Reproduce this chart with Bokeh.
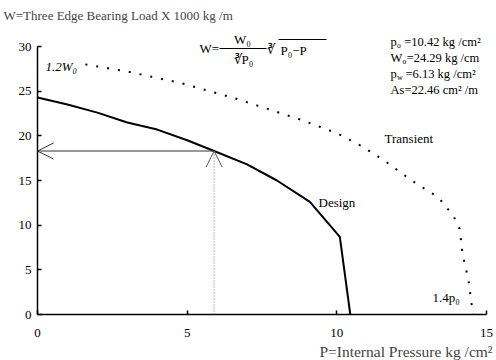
from bokeh.plotting import figure
from bokeh.models import Label, Arrow, OpenHead, FixedTicker, Range1d, Title
from bokeh.embed import file_html
from bokeh.resources import INLINE

# ---- data ----
design_P = [0, 1, 2, 3, 4, 5, 5.9, 7, 8, 9.1, 10.1, 10.45]
design_W = [24.3, 23.5, 22.6, 21.5, 20.7, 19.5, 18.3, 16.8, 15.0, 12.6, 8.7, 0]
transient_P = [1.6, 3.0, 4.8, 6.6, 8.8, 10.0, 10.8, 11.6, 12.5, 13.4, 13.9, 14.1, 14.2, 14.4, 14.5, 14.55]
transient_W = [28.0, 27.2, 25.9, 24.2, 21.8, 20.3, 18.9, 17.2, 15.0, 13.1, 11.0, 9.6, 6.8, 3.8, 1.2, 0]
operating_P = 5.9
operating_W = 18.3
x_ticks = [0, 5, 10, 15]
y_ticks = [0, 5, 10, 15, 20, 25, 30]
param_lines = ["p₀ =10.42 kg /cm²", "W₀=24.29 kg /cm", "=6.13 kg /cm²", "As=22.46 cm² /m"]
title_text = "W=Three Edge Bearing Load X 1000 kg /m"
xlabel_text = "P=Internal Pressure kg /cm²"

FONT = "Liberation Serif"
W, H = 496, 360
L, B, TOP = 37, 46, 24        # frame left / bottom / top borders in pixels
AX_X1, AX_Y1 = 15, 30         # axis extents
PX_X1, PX_Y1 = 486, 46        # pixel positions of those extents
sx = (PX_X1 - L) / AX_X1      # pixels per unit
sy = (H - B - PX_Y1) / AX_Y1
x_end = (W - L) / sx
y_end = (H - B - TOP) / sy

def dx(px):
    return (px - L) / sx

def dy(py):
    return (H - B - py) / sy

p = figure(width=W, height=H, x_range=Range1d(0, x_end), y_range=Range1d(0, y_end),
           output_backend="svg", toolbar_location=None,
           min_border_left=L, min_border_right=0, min_border_top=TOP, min_border_bottom=B)
p.title.text = title_text
p.title.align = "left"
p.title.offset = -34
p.title.standoff = 4
p.title.text_font = FONT
p.title.text_font_size = "13px"
p.title.text_font_style = "normal"
p.grid.visible = False
p.outline_line_color = None
p.background_fill_color = "white"
p.border_fill_color = "white"

for ax in (p.xaxis, p.yaxis):
    ax.axis_line_width = 1.5
    ax.axis_line_color = "black"
    ax.major_tick_in = 4
    ax.major_tick_out = 0
    ax.major_tick_line_width = 1.5
    ax.minor_tick_line_color = None
    ax.major_label_text_font = FONT
    ax.major_label_text_font_size = "13px"
    ax.major_label_text_color = "black"
p.xaxis.ticker = FixedTicker(ticks=x_ticks)
p.yaxis.ticker = FixedTicker(ticks=y_ticks)
p.xaxis.bounds = (0, AX_X1)
p.yaxis.bounds = (0, AX_Y1)
p.xaxis.major_label_standoff = 14
p.yaxis.major_label_standoff = 6

p.add_layout(Title(text=xlabel_text, align="right", text_font=FONT, text_font_size="15.5px",
                   text_font_style="normal", offset=4, standoff=2), "below")

# curves
p.line(design_P, design_W, line_color="black", line_width=2)
p.line(transient_P, transient_W, line_color="black", line_width=2, line_dash="2 9")

# operating-point arrows
p.add_layout(Arrow(end=OpenHead(size=16, line_width=1, line_color="#333333"),
                   x_start=operating_P, y_start=operating_W, x_end=0, y_end=operating_W,
                   line_width=1.2, line_color="#333333"))
p.add_layout(Arrow(end=OpenHead(size=16, line_width=1, line_color="#555555"),
                   x_start=operating_P, y_start=0, x_end=operating_P, y_end=operating_W,
                   line_width=1, line_color="#777777", line_dash="1 2"))

def lab(text, px, py, size="13px", align="left", style="normal", baseline="middle"):
    p.add_layout(Label(x=dx(px), y=dy(py), text=text, text_font=FONT, text_font_size=size,
                       text_align=align, text_baseline=baseline, text_color="black",
                       text_font_style=style))

def seg(px0, py0, px1, py1, w=1.0):
    p.add_layout(Arrow(end=None, start=None, x_start=dx(px0), y_start=dy(py0),
                       x_end=dx(px1), y_end=dy(py1), line_width=w, line_color="black"))

# curve labels
lab("1.2W₀", 45, 66, style="italic")
lab("Transient", 384, 138)
lab("Design", 318, 202)
lab("1.4p₀", 432, 297)

# formula W = W0 / cbrt(P0) * cbrt(P0 - P)
lab("W=", 199, 48)
lab("W₀", 242, 39, align="center")
seg(219, 48, 266, 48, 1.2)
lab("∛P₀", 243, 59, align="center")
lab("∛", 266, 49, size="13px")
lab("P₀−P", 280, 50)
seg(278, 39, 326, 39, 1.0)

# parameter block
px0 = 390
for i, t in enumerate(param_lines):
    if i == 2:
        lab("p", px0, 41 + i * 16, size="12.5px")
        lab("w", px0 + 6.5, 41 + i * 16 + 4, size="8px")
        lab(t, px0 + 15, 41 + i * 16, size="12.5px")
    else:
        lab(t, px0, 41 + i * 16, size="12.5px")

open("out.html", "w").write(file_html(p, INLINE))
